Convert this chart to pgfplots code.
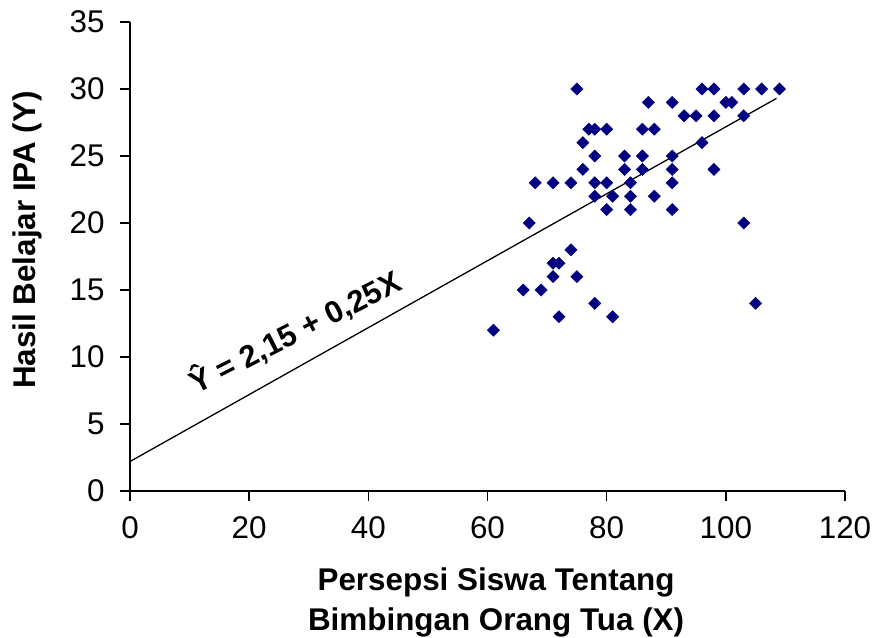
\documentclass[border=0pt]{standalone}
\usepackage{fontspec}
\setmainfont{Liberation Sans}
\usepackage{pgfplots}
\pgfplotsset{compat=1.18}
\definecolor{navymark}{RGB}{0,0,128}
\begin{document}
\begin{tikzpicture}
\begin{axis}[
  scale only axis, width=715bp, height=469bp,
  xmin=0, xmax=120, ymin=0, ymax=35,
  xtick={0,20,...,120}, ytick={0,5,...,35},
  axis lines=left, axis line style={-, line width=1.6bp},
  tick align=outside, major tick length=10bp,
  tick style={line width=1.6bp, black},
  ticklabel style={font=\fontsize{31.5}{36}\selectfont},
  xticklabel style={yshift=-12bp},
  yticklabel style={xshift=-12bp},
  /pgf/number format/assume math mode=true,
  xlabel={Persepsi Siswa Tentang\\Bimbingan Orang Tua (X)},
  xlabel style={at={(axis description cs:0.512,-0.237)}, anchor=center, align=center,
    font=\bfseries\fontsize{31.5}{40}\selectfont},
  ylabel={Hasil Belajar IPA (Y)},
  ylabel style={at={(axis description cs:-0.144,0.535)}, anchor=center,
    font=\bfseries\fontsize{31.5}{36}\selectfont},
  clip=false,
]
\addplot[only marks, mark=square*, mark size=4.3bp,
  mark options={rotate=45, fill=navymark, draw=navymark, line width=0.5bp}] table {
x y
61 12
66 15
67 20
68 23
69 15
71 23
71 16
71 17
72 17
72 13
74 23
74 18
75 30
75 16
76 26
76 24
77 27
78 27
78 25
78 23
78 22
78 14
80 27
80 23
80 21
81 13
81 22
83 25
83 24
84 23
84 22
84 21
86 27
86 25
86 24
87 29
88 27
88 22
91 29
91 25
91 24
91 23
91 21
93 28
95 28
96 30
96 26
98 30
98 28
98 24
100 29
101 29
103 30
103 28
103 20
105 14
106 30
109 30
};
\addplot[black, line width=1.3bp] coordinates {(0,2.2) (108.5,29.3)};
\node[rotate=27, font=\bfseries\fontsize{31}{36}\selectfont] at (axis cs:27.7,11.9) {Ŷ = 2,15 + 0,25X};
\end{axis}
\pgfresetboundingbox
\path[use as bounding box] (-130bp,-147bp) rectangle (743bp,491bp);
\end{tikzpicture}
\end{document}
